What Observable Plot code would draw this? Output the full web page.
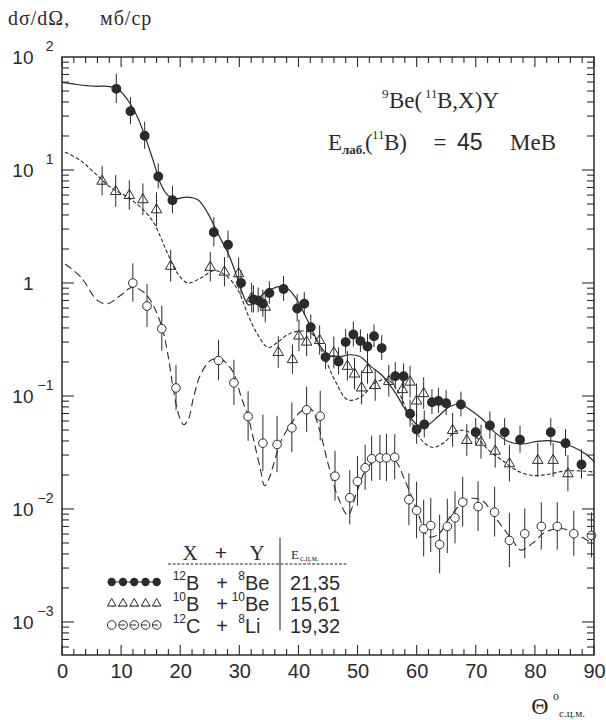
<!DOCTYPE html>
<html><head><meta charset="utf-8">
<script src="https://cdn.jsdelivr.net/npm/d3@7"></script>
<script src="https://cdn.jsdelivr.net/npm/@observablehq/plot@0.6"></script>
<style>body{margin:0;background:#fff}</style>
</head><body><div id="chart"></div>
<script>
const INK = "#2b2b2b";
const SERIF = "'Liberation Serif', 'DejaVu Serif', serif";
const SANS = "'Liberation Sans', 'DejaVu Sans', sans-serif";

// ---- data: 12B + 8Be (filled circles) ----
const thetaB12 = [9.1, 11.5, 13.9, 16.2, 18.6, 25.6, 28.0, 30.2, 32.3, 33.1, 33.9, 35.0, 37.4, 39.7, 40.9, 42.0, 44.5, 46.7, 47.9, 49.2, 50.4, 51.6, 52.7, 54.0, 56.3, 57.7, 58.8, 59.9, 61.2, 62.5, 63.6, 64.9, 67.4, 69.9, 72.3, 74.8, 77.4, 82.6, 85.1, 87.8];
const sigmaB12 = [52.8, 33.5, 20.3, 8.85, 5.46, 2.84, 2.20, 1.01, 0.721, 0.708, 0.661, 0.824, 0.895, 0.601, 0.661, 0.410, 0.223, 0.204, 0.303, 0.354, 0.309, 0.277, 0.342, 0.268, 0.151, 0.151, 0.0703, 0.0511, 0.0565, 0.0891, 0.0912, 0.0873, 0.0849, 0.0483, 0.0553, 0.0483, 0.0414, 0.0483, 0.0386, 0.0250];
const errB12 = [0.13, 0.12, 0.12, 0.11, 0.12, 0.13, 0.12, 0.11, 0.12, 0.11, 0.12, 0.10, 0.11, 0.12, 0.10, 0.11, 0.11, 0.12, 0.11, 0.11, 0.10, 0.11, 0.10, 0.11, 0.12, 0.11, 0.12, 0.13, 0.12, 0.11, 0.11, 0.11, 0.11, 0.12, 0.12, 0.12, 0.12, 0.12, 0.12, 0.13];

// ---- data: 10B + 10Be (open triangles) ----
const thetaB10 = [6.7, 9.0, 11.3, 13.6, 15.9, 18.3, 25.0, 27.4, 29.8, 32.0, 34.3, 36.5, 38.9, 40.0, 41.3, 43.5, 45.9, 48.2, 49.4, 50.6, 51.6, 52.9, 55.2, 57.5, 58.8, 59.9, 61.1, 66.0, 68.4, 70.8, 73.2, 75.6, 80.4, 83.0, 85.5];
const sigmaB10 = [8.04, 6.52, 6.01, 5.51, 4.49, 1.42, 1.39, 1.26, 1.22, 0.741, 0.617, 0.245, 0.212, 0.343, 0.303, 0.313, 0.243, 0.185, 0.158, 0.119, 0.173, 0.125, 0.136, 0.115, 0.134, 0.0912, 0.106, 0.0501, 0.0408, 0.0394, 0.0328, 0.0254, 0.0272, 0.0272, 0.0207];
const errB10 = [0.13, 0.14, 0.13, 0.14, 0.15, 0.14, 0.13, 0.13, 0.14, 0.13, 0.14, 0.14, 0.13, 0.14, 0.13, 0.13, 0.14, 0.13, 0.14, 0.15, 0.13, 0.14, 0.14, 0.15, 0.14, 0.15, 0.14, 0.15, 0.14, 0.15, 0.15, 0.16, 0.15, 0.15, 0.16];

// ---- data: 12C + 8Li (open circles) ----
const thetaC12 = [11.9, 14.3, 16.8, 19.2, 26.4, 29.0, 31.4, 33.9, 36.3, 38.8, 41.3, 43.6, 46.1, 48.6, 49.9, 51.2, 52.3, 53.7, 54.8, 56.2, 58.6, 59.9, 61.1, 62.3, 63.8, 65.1, 66.4, 67.7, 70.3, 73.1, 75.6, 78.2, 81.0, 83.7, 86.5, 89.5];
const sigmaC12 = [1.01, 0.631, 0.398, 0.119, 0.208, 0.132, 0.0665, 0.0386, 0.0376, 0.0528, 0.0762, 0.0670, 0.0197, 0.0127, 0.0177, 0.0234, 0.0281, 0.0286, 0.0286, 0.0290, 0.0122, 0.0098, 0.00676, 0.00721, 0.00490, 0.00708, 0.00843, 0.0116, 0.0106, 0.00946, 0.00532, 0.00610, 0.00708, 0.00708, 0.00610, 0.00589];
const errC12 = [0.17, 0.19, 0.20, 0.20, 0.18, 0.20, 0.22, 0.25, 0.25, 0.22, 0.20, 0.22, 0.22, 0.24, 0.22, 0.20, 0.20, 0.20, 0.21, 0.20, 0.23, 0.25, 0.25, 0.24, 0.26, 0.24, 0.23, 0.22, 0.22, 0.22, 0.24, 0.22, 0.21, 0.21, 0.20, 0.20];

// ---- calculated curves ----
const curveB12Theta = [0, 2.5, 5.3, 8.1, 9.6, 11.3, 12.7, 14.1, 15.5, 16.6, 17.8, 19.2, 21.0, 22.9, 24.6, 26.3, 28.0, 29.1, 30.4, 31.5, 32.5, 34.2, 35.8, 37.0, 38.2, 39.5, 41.0, 42.3, 43.8, 45.2, 46.8, 48.5, 50.3, 52.3, 54.0, 56.2, 58.3, 60.0, 61.5, 63.5, 65.5, 67.3, 69.0, 71.0, 73.2, 75.5, 77.8, 80.0, 82.3, 84.5, 86.5, 88.5, 90];
const curveB12Sigma = [60.3, 57.7, 55.7, 55.3, 51.3, 40.2, 29.6, 19.1, 11.5, 7.62, 6.03, 5.62, 5.82, 5.50, 4.17, 2.75, 1.86, 1.32, 0.832, 0.646, 0.676, 0.832, 0.912, 0.944, 0.891, 0.741, 0.525, 0.380, 0.269, 0.229, 0.224, 0.234, 0.226, 0.182, 0.155, 0.110, 0.0724, 0.0562, 0.0550, 0.0661, 0.0813, 0.0851, 0.0759, 0.0631, 0.0479, 0.0398, 0.0380, 0.0398, 0.0407, 0.0389, 0.0355, 0.0309, 0.0263];

const curveB10Theta = [0.5, 3.1, 5.3, 8.1, 11.0, 13.2, 15.2, 16.6, 17.8, 19.5, 21.2, 23.4, 25.7, 27.7, 29.7, 31.4, 33.1, 34.8, 36.4, 38.2, 40.4, 42.1, 43.2, 44.4, 46.1, 48.3, 50.6, 52.9, 55.0, 57.0, 59.0, 61.0, 62.7, 64.5, 66.5, 68.0, 69.8, 72.0, 74.5, 77.0, 79.5, 82.0, 85.0, 88.0, 90.0];
const curveB10Sigma = [14.5, 12.2, 9.66, 7.11, 5.81, 4.73, 3.61, 2.57, 1.83, 1.22, 1.01, 1.12, 1.30, 1.17, 0.871, 0.525, 0.347, 0.272, 0.302, 0.355, 0.380, 0.363, 0.295, 0.219, 0.138, 0.0933, 0.100, 0.132, 0.141, 0.105, 0.0603, 0.0398, 0.0355, 0.0389, 0.0490, 0.0501, 0.0447, 0.0339, 0.0269, 0.0219, 0.0200, 0.0204, 0.0219, 0.0219, 0.0214];

const curveC12Theta = [0.5, 3.1, 5.9, 7.6, 9.8, 11.8, 13.8, 15.5, 16.9, 17.8, 18.7, 19.6, 20.5, 21.3, 22.2, 23.4, 25.1, 26.8, 28.3, 29.1, 30.2, 31.4, 32.5, 33.5, 34.2, 35.0, 35.6, 37.0, 38.7, 40.4, 42.0, 43.5, 44.9, 46.6, 48.3, 49.7, 51.2, 53.4, 55.0, 56.5, 57.9, 59.1, 60.2, 61.9, 63.6, 65.9, 68.7, 71.0, 73.2, 76.1, 77.5, 79.5, 81.7, 84.6, 86.8, 89.6];
const curveC12Sigma = [1.48, 1.14, 0.708, 0.661, 0.783, 0.927, 0.832, 0.617, 0.398, 0.240, 0.120, 0.0708, 0.0562, 0.0631, 0.100, 0.158, 0.209, 0.214, 0.182, 0.155, 0.100, 0.0661, 0.0380, 0.0224, 0.0162, 0.0191, 0.0240, 0.0407, 0.0575, 0.0741, 0.0776, 0.0501, 0.0257, 0.0129, 0.00891, 0.0138, 0.0219, 0.0288, 0.0302, 0.0263, 0.0182, 0.0129, 0.00912, 0.00575, 0.00603, 0.00912, 0.0124, 0.0120, 0.00851, 0.00537, 0.00437, 0.00501, 0.00631, 0.00676, 0.00610, 0.00501];

// ---- axis ticks / labels ----
const xTickLabels = [0, 10, 20, 30, 40, 50, 60, 70, 80, 90];
const yDecades = [100, 10, 1, 0.1, 0.01, 0.001];
const yDecadeBase = ["10", "10", "1", "10", "10", "10"];
const yDecadeExp = ["2", "1", "", "\u22121", "\u22122", "\u22123"];

// ---- legend ----
const legendRows = [
  {a: "12", A: "B", b: "8", B: "Be", e: "21,35"},
  {a: "10", A: "B", b: "10", B: "Be", e: "15,61"},
  {a: "12", A: "C", b: "8", B: "Li", e: "19,32"}
];

const pts = (th, sg, er) => th.map((t, i) => ({t, s: sg[i], lo: sg[i] / 10 ** (er[i] ?? 0.15), hi: sg[i] * 10 ** (er[i] ?? 0.15)}));
const crv = (th, sg) => th.map((t, i) => ({t, s: sg[i]}));
const dB12 = pts(thetaB12, sigmaB12, errB12);
const dB10 = pts(thetaB10, sigmaB10, errB10);
const dC12 = pts(thetaC12, sigmaC12, errC12);

function txt(g, x, y, str, size, o = {}) {
  const e = g.append("text").attr("x", x).attr("y", y).attr("font-size", size)
    .attr("fill", INK).attr("stroke", "none").attr("font-family", o.family || SERIF)
    .attr("text-anchor", o.anchor || "start").text(str);
  if (o.ls) e.attr("letter-spacing", o.ls);
  if (o.weight) e.attr("font-weight", o.weight);
  return e;
}

function frameAndTicks(index, scales, values, dims) {
  const {width, height, marginTop, marginRight, marginBottom, marginLeft} = dims;
  const x = scales.x, y = scales.y;
  const L = marginLeft, R = width - marginRight, T = marginTop, B = height - marginBottom;
  const g = d3.create("svg:g").attr("fill", "none").attr("stroke", INK);
  const tk = g.append("g").attr("stroke-width", 1.1);
  for (const v of d3.range(0, 91, 2)) {
    const px = x(v), len = v % 10 === 0 ? 10 : 6;
    tk.append("line").attr("x1", px).attr("x2", px).attr("y1", B).attr("y2", B - len);
    tk.append("line").attr("x1", px).attr("x2", px).attr("y1", T).attr("y2", T + len);
  }
  const y0 = 5.1e-4, y1 = 100;
  for (let e = -4; e <= 1; e++) for (let k = 1; k <= 9; k++) {
    const v = k * 10 ** e;
    if (v < y0 || v > y1) continue;
    const py = y(v), len = k === 1 ? 12 : 7;
    tk.append("line").attr("x1", L).attr("x2", L + len).attr("y1", py).attr("y2", py);
    tk.append("line").attr("x1", R).attr("x2", R - len).attr("y1", py).attr("y2", py);
  }
  g.append("rect").attr("x", L).attr("y", T).attr("width", R - L).attr("height", B - T).attr("stroke-width", 1.5);
  return g.node();
}

function annotations(index, scales, values, dims) {
  const {width, height, marginBottom, marginLeft} = dims;
  const L = marginLeft, B = height - marginBottom;
  const g = d3.create("svg:g");
  // y axis title
  txt(g, 8, 25, "d\u03c3/d\u03a9,", 20, {ls: 1});
  txt(g, 100, 25, "\u043c\u0431/\u0441\u0440", 20, {ls: 1});
  // x axis title
  txt(g, 540, 714, "\u0398", 24, {anchor: "middle"});
  txt(g, 553, 700, "o", 12);
  txt(g, 559, 717, "\u0441.\u0446.\u043c.", 11);
  // reaction
  txt(g, 382, 98, "9", 13);
  txt(g, 389, 108, "Be(", 23);
  txt(g, 425, 98, "11", 13);
  txt(g, 437, 108, "B,X)Y", 23);
  txt(g, 328, 150, "E", 23);
  txt(g, 342, 154, "\u043b\u0430\u0431.", 13, {weight: "bold"});
  txt(g, 365, 150, "(", 23);
  txt(g, 372, 139, "11", 13);
  txt(g, 384, 150, "B)", 23);
  txt(g, 440, 150, "=", 23, {anchor: "middle"});
  txt(g, 457, 150, "45", 23, {family: SANS});
  txt(g, 510, 150, "MeB", 23);
  // legend
  const lg = g.append("g");
  txt(lg, L + 128, B - 95, "X", 21, {anchor: "middle"});
  txt(lg, L + 159, B - 95, "+", 21, {anchor: "middle", family: SANS});
  txt(lg, L + 195, B - 95, "Y", 21, {anchor: "middle"});
  txt(lg, L + 229, B - 96, "E", 13);
  txt(lg, L + 238, B - 94, "\u0441.\u0446.\u043c.", 8);
  lg.append("line").attr("x1", L + 106).attr("x2", L + 285).attr("y1", B - 91).attr("y2", B - 91)
    .attr("stroke", INK).attr("stroke-dasharray", "3,1.5").attr("stroke-width", 1);
  lg.append("line").attr("x1", L + 218).attr("x2", L + 218).attr("y1", B - 117).attr("y2", B - 25)
    .attr("stroke", INK).attr("stroke-width", 1.1);
  const rowY = [B - 73, B - 52, B - 30];
  legendRows.forEach((r, i) => {
    const by = rowY[i] + 8;
    txt(lg, L + 124, by - 10, r.a, 12, {anchor: "end", family: SANS});
    txt(lg, L + 124, by, r.A, 20, {family: SANS});
    txt(lg, L + 160, by, "+", 20, {anchor: "middle", family: SANS});
    txt(lg, L + 183, by - 10, r.b, 12, {anchor: "end", family: SANS});
    txt(lg, L + 183, by, r.B, 20, {family: SANS});
    txt(lg, L + 228, by, r.e, 20, {family: SANS});
  });
  const sx = [49.7, 61, 72.2, 83.5, 94.7].map(d => L + d);
  lg.append("line").attr("x1", sx[0]).attr("x2", sx[4]).attr("y1", rowY[0]).attr("y2", rowY[0]).attr("stroke", INK).attr("stroke-width", 1.2);
  sx.forEach(cx => lg.append("circle").attr("cx", cx).attr("cy", rowY[0]).attr("r", 4.2).attr("fill", INK));
  lg.append("line").attr("x1", sx[0]).attr("x2", sx[4]).attr("y1", rowY[1] + 3).attr("y2", rowY[1] + 3).attr("stroke", INK).attr("stroke-width", 1).attr("stroke-dasharray", "3,3");
  sx.forEach(cx => lg.append("path").attr("d", `M${cx},${rowY[1] - 4.5}L${cx + 4.3},${rowY[1] + 3}L${cx - 4.3},${rowY[1] + 3}Z`).attr("fill", "#fff").attr("stroke", INK).attr("stroke-width", 1));
  sx.forEach(cx => lg.append("circle").attr("cx", cx).attr("cy", rowY[2]).attr("r", 4.3).attr("fill", "#fff").attr("stroke", INK).attr("stroke-width", 1));
  lg.append("line").attr("x1", sx[1] - 4).attr("x2", sx[4] + 4).attr("y1", rowY[2]).attr("y2", rowY[2]).attr("stroke", INK).attr("stroke-width", 1).attr("stroke-dasharray", "6,5");
  return g.node();
}

const chart = Plot.plot({
  width: 606,
  height: 720,
  marginLeft: 62,
  marginRight: 12,
  marginTop: 57,
  marginBottom: 65,
  x: {domain: [0, 90], axis: null},
  y: {type: "log", domain: [5.1e-4, 100], axis: null},
  style: {background: "#fff", color: INK, fontFamily: SANS},
  marks: [
    Plot.line(crv(curveB12Theta, curveB12Sigma), {x: "t", y: "s", curve: "catmull-rom", stroke: INK, strokeWidth: 1.2}),
    Plot.line(crv(curveB10Theta, curveB10Sigma), {x: "t", y: "s", curve: "catmull-rom", stroke: INK, strokeWidth: 1.1, strokeDasharray: "3,3"}),
    Plot.line(crv(curveC12Theta, curveC12Sigma), {x: "t", y: "s", curve: "catmull-rom", stroke: INK, strokeWidth: 1.1, strokeDasharray: "7,5"}),
    Plot.ruleX(dB12, {x: "t", y1: "lo", y2: "hi", stroke: INK, strokeWidth: 1}),
    Plot.ruleX(dB10, {x: "t", y1: "lo", y2: "hi", stroke: INK, strokeWidth: 1}),
    Plot.ruleX(dC12, {x: "t", y1: "lo", y2: "hi", stroke: INK, strokeWidth: 1}),
    Plot.dot(dC12, {x: "t", y: "s", r: 4.3, fill: "#fff", stroke: INK, strokeWidth: 1}),
    Plot.dot(dB10, {x: "t", y: "s", symbol: "triangle", r: 3.9, fill: "none", stroke: INK, strokeWidth: 1}),
    Plot.dot(dB12, {x: "t", y: "s", r: 4.2, fill: INK, stroke: INK}),
    frameAndTicks,
    Plot.text(xTickLabels, {x: d => d, frameAnchor: "bottom", dy: 22, text: d => String(d), fontSize: 20, fill: INK, fontFamily: SANS}),
    Plot.text(yDecades, {y: d => d, frameAnchor: "left", dx: -29, text: (d, i) => yDecadeBase[i], textAnchor: "end", fontSize: 19, fill: INK, fontFamily: SANS}),
    Plot.text(yDecades, {y: d => d, frameAnchor: "left", dx: -9, dy: -11, text: (d, i) => yDecadeExp[i], textAnchor: "end", fontSize: 14, fill: INK, fontFamily: SANS}),
    annotations
  ]
});
document.getElementById("chart").appendChild(chart);
</script>
</body></html>
